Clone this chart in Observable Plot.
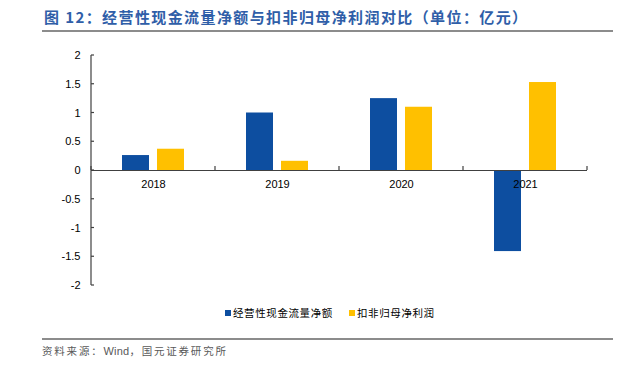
<!DOCTYPE html>
<html>
<head>
<meta charset="utf-8">
<script src="https://cdn.jsdelivr.net/npm/d3@7"></script>
<script src="https://cdn.jsdelivr.net/npm/@observablehq/plot@0.6"></script>
<style>
  html, body { margin: 0; padding: 0; background: #fff; }
  #page { position: relative; width: 634px; height: 366px; overflow: hidden; }
  #title { position: relative; height: 40px; }
  #title .t { position: absolute; left: 44px; top: 7px; font: bold 15px "Noto Sans CJK SC", sans-serif; color: #2f5ea8; letter-spacing: 1.4px; line-height: 20px; white-space: nowrap; }
  .rule { position: absolute; left: 42px; width: 571px; height: 2px; background: #8c8c8c; }
  #legend { position: relative; height: 38px; font: 10.5px "Noto Sans CJK SC", sans-serif; color: #000; letter-spacing: 0.6px; }
  #legend .item { position: absolute; top: 5px; line-height: 16px; white-space: nowrap; }
  #legend .sw { display: inline-block; width: 6px; height: 6px; margin-right: 2px; vertical-align: 1px; }
  #footer { position: relative; height: 28px; }
  #footer .t { position: absolute; left: 42px; top: 5px; font: 10.5px "Noto Sans CJK SC", sans-serif; color: #595959; letter-spacing: 1.8px; line-height: 16px; white-space: nowrap; }
  #footer .t .w { font-family: "Liberation Sans", Arial, sans-serif; font-size: 11px; letter-spacing: 0.2px; }
</style>
</head>
<body>
<div id="page">
  <div id="title">
    <div class="t">图 12：经营性现金流量净额与扣非归母净利润对比（单位：亿元）</div>
    <div class="rule" style="top:30px"></div>
  </div>
  <div id="chart"></div>
  <div id="legend"></div>
  <div id="footer">
    <div class="rule" style="top:0px"></div>
    <div class="t">资料来源：<span class="w">Wind</span>，国元证券研究所</div>
  </div>
</div>
<script>
const years = ["2018", "2019", "2020", "2021"];
const seriesNames = ["经营性现金流量净额", "扣非归母净利润"];
const cashFlow = [0.26, 1.00, 1.25, -1.41];
const netProfit = [0.37, 0.16, 1.10, 1.53];
const colors = ["#0d4ea0", "#ffc000"];
const yTicks = [-2, -1.5, -1, -0.5, 0, 0.5, 1, 1.5, 2];

const data = years.flatMap((yr, i) => [
  {year: yr, series: seriesNames[0], value: cashFlow[i]},
  {year: yr, series: seriesNames[1], value: netProfit[i]}
]);

const chart = Plot.plot({
  width: 634,
  height: 260,
  marginTop: 15,
  marginBottom: 15,
  marginLeft: 90,
  marginRight: 46,
  style: {fontFamily: "'Liberation Sans', Arial, sans-serif", fontSize: "11px", color: "#000", background: "#fff"},
  fx: {domain: years, paddingInner: 0, paddingOuter: 0, axis: null, label: null},
  x: {domain: seriesNames, paddingInner: 8 / 36, paddingOuter: 0.84, axis: null, label: null},
  y: {domain: [-2, 2], axis: null, label: null},
  color: {domain: seriesNames, range: colors},
  marks: [
    Plot.barY(data, {fx: "year", x: "series", y: "value", fill: "series"}),
    Plot.ruleY([0], {stroke: "#404040", strokeWidth: 1.2}),
    Plot.text(years, {fx: d => d, y: 0, text: d => d, dy: 14, fill: "#000", fontSize: 11}),
    Plot.axisY({ticks: yTicks, tickFormat: d => String(d), tickSize: 0, tickPadding: 11, label: null, fill: "#000"})
  ]
});
document.getElementById("chart").appendChild(chart);

const fxs = chart.scale("fx");
const ys = chart.scale("y");
const y0 = ys.apply(0);
const xLeft = fxs.apply(years[0]);
const g = d3.select(chart).append("g").attr("stroke", "#404040").attr("stroke-width", 1.2);

// y axis line with inward ticks
g.append("line")
  .attr("x1", xLeft).attr("x2", xLeft)
  .attr("y1", ys.apply(d3.max(yTicks))).attr("y2", ys.apply(d3.min(yTicks)));
g.selectAll("line.yt").data(yTicks).join("line").attr("class", "yt")
  .attr("x1", xLeft).attr("x2", xLeft + 3)
  .attr("y1", d => ys.apply(d)).attr("y2", d => ys.apply(d));

// small upward tick marks at the category boundaries on the zero line
const bounds = years.map(yr => fxs.apply(yr)).concat([fxs.apply(years[years.length - 1]) + fxs.bandwidth]);
g.selectAll("line.xt").data(bounds).join("line").attr("class", "xt")
  .attr("x1", d => d).attr("x2", d => d)
  .attr("y1", y0).attr("y2", y0 - 4);

// legend
const legend = d3.select("#legend");
const legendX = [225, 349];
seriesNames.forEach((name, i) => {
  const it = legend.append("div").attr("class", "item").style("left", legendX[i] + "px");
  it.append("span").attr("class", "sw").style("background", colors[i]);
  it.append("span").text(name);
});
</script>
</body>
</html>
